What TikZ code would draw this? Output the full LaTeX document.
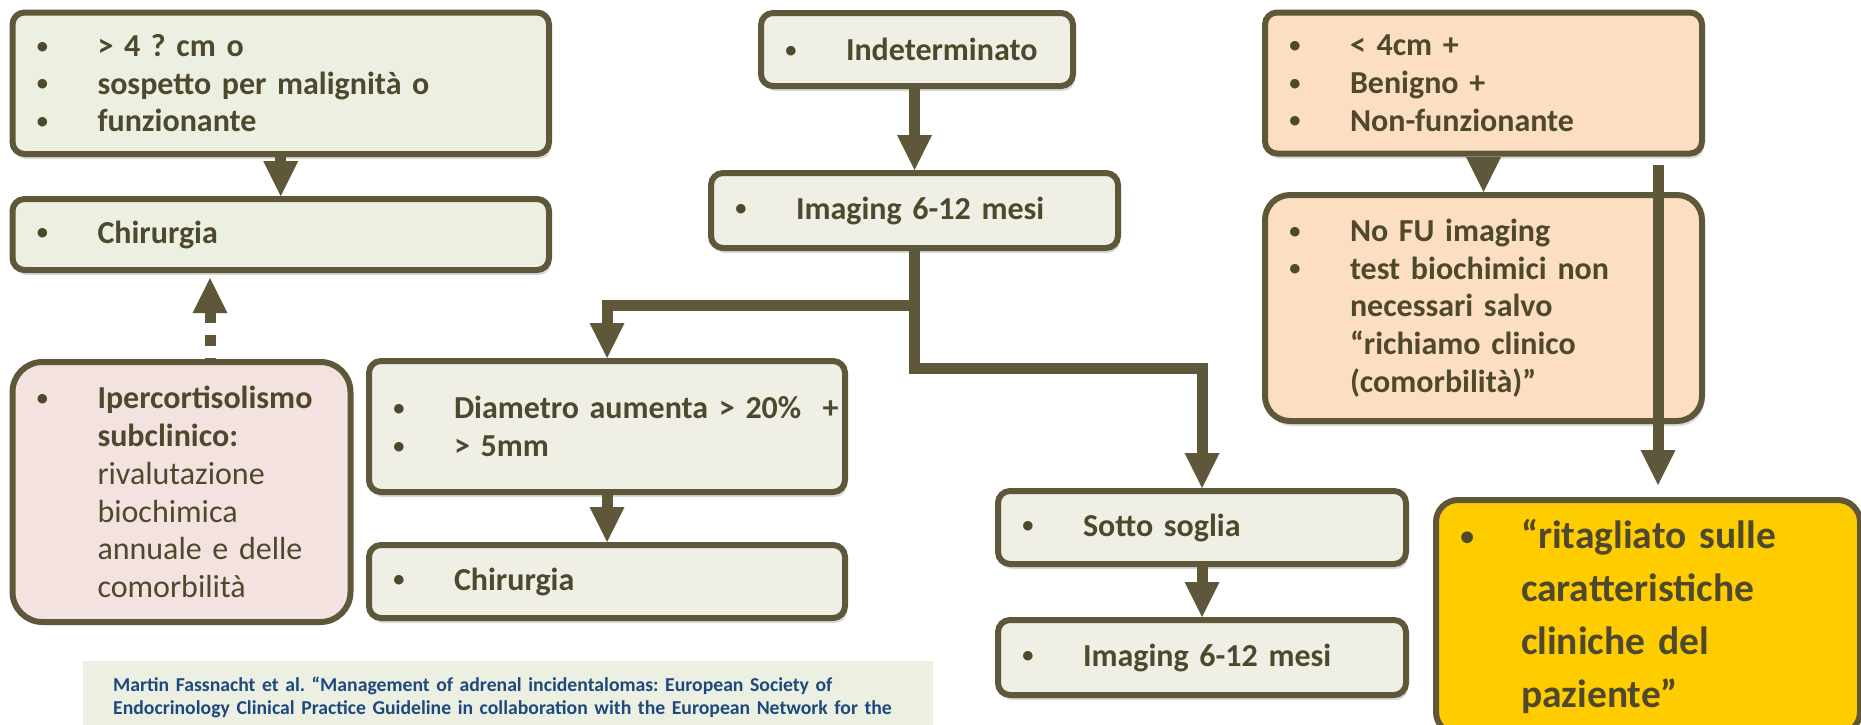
\documentclass[tikz,border=0pt]{standalone}
\usepackage{fontspec}
\usepackage{graphicx}
\setmainfont{Carlito}
\usetikzlibrary{arrows.meta,shadows}

\definecolor{rim}{RGB}{94,87,58}
\definecolor{ink}{RGB}{78,72,44}
\definecolor{sage}{RGB}{235,240,227}
\definecolor{stone}{RGB}{239,239,230}
\definecolor{blush}{RGB}{243,226,224}
\definecolor{peach}{RGB}{252,222,194}
\definecolor{amber}{RGB}{255,204,0}
\definecolor{citebg}{RGB}{235,240,227}
\definecolor{citeink}{RGB}{31,73,125}

\newcommand{\bdot}{\hspace{0.075em}\raisebox{0.1em}{\scalebox{0.7}{•}}}
\newcommand{\bitem}[2][63pt]{\mbox{\makebox[#1][l]{\bdot}#2}}
\newcommand{\bnext}[2][63pt]{\mbox{\hspace*{#1}#2}}
\frenchspacing

\begin{document}
\begin{tikzpicture}[x=1pt, y=-1pt,
    box/.style={rectangle, rounded corners=12pt, draw=rim, line width=6pt, anchor=north west,
        inner xsep=22pt, inner ysep=0pt, align=left, text=ink,
        font=\fontsize{32}{37.8}\selectfont\bfseries},
    shade/.style={drop shadow={shadow xshift=2pt, shadow yshift=-5pt, opacity=.15, fill=black}},
    flow/.style={draw=rim, line width=11pt, -{Triangle[length=35pt, width=35pt, line width=0pt]}}]
        \useasboundingbox (0,0) rectangle (1861,724);

        \node[box, shade, fill=sage, minimum width=536.5pt, minimum height=141.5pt, text width=492.5pt] (large) at (9.5,9.5)
            {\bitem{> 4 ? cm o}\\ \bitem{sospetto per malignità o}\\ \bitem{funzionante}};
        \node[box, shade, fill=sage, minimum width=536.5pt, minimum height=71pt, text width=492.5pt] (surgL) at (9.5,196)
            {\bitem{Chirurgia}};
        \node[box, fill=blush, rounded corners=30pt, minimum width=338pt, minimum height=260pt, text width=294pt] (hyper) at (9.5,359)
            {\bitem{Ipercortisolismo}\\ \bnext{subclinico:}\\ \bnext{\mdseries rivalutazione}\\ \bnext{\mdseries biochimica}\\ \bnext{\mdseries annuale e delle}\\ \bnext{\mdseries comorbilità}};

        \node[box, shade, fill=stone, minimum width=312pt, minimum height=73pt, text width=268pt] (indet) at (758,10)
            {\bitem{Indeterminato}};
        \node[box, shade, fill=stone, minimum width=407pt, minimum height=75pt, text width=363pt] (imgA) at (708,170)
            {\bitem{Imaging 6-12 mesi}};
        \node[box, shade, fill=stone, minimum width=476pt, minimum height=131pt, text width=432pt] (growth) at (366,358)
            {\bitem{Diametro aumenta > 20\%\ \ +}\\ \bitem{> 5mm}};
        \node[box, shade, fill=stone, minimum width=476pt, minimum height=73pt, text width=432pt] (surgM) at (366,542)
            {\bitem{Chirurgia}};
        \node[box, shade, fill=stone, minimum width=408pt, minimum height=73pt, text width=364pt] (below) at (995,488)
            {\bitem{Sotto soglia}};
        \node[box, shade, fill=stone, minimum width=408pt, minimum height=75pt, text width=364pt] (imgB) at (995,617)
            {\bitem{Imaging 6-12 mesi}};

        \node[box, shade, fill=peach, minimum width=437pt, minimum height=141pt, text width=393pt] (small) at (1262,9.5)
            {\bitem{< 4cm +}\\ \bitem{Benigno +}\\ \bitem{Non-funzionante}};
        \node[box, shade, fill=peach, rounded corners=25pt, minimum width=437pt, minimum height=226pt, text width=393pt] (nofu) at (1262,192)
            {\bitem{No FU imaging}\\ \bitem{test biochimici non}\\ \bnext{necessari salvo}\\ \bnext{“richiamo clinico}\\ \bnext{(comorbilità)”}};
        \node[box, fill=amber, rounded corners=22pt, inner xsep=21.5pt, minimum width=424pt, minimum height=234pt, text width=381pt,
            font=\fontsize{39.5}{53}\selectfont\bfseries] (tailored) at (1433,497)
            {\bitem[63.5pt]{“ritagliato sulle}\\ \bnext[63.5pt]{caratteristiche}\\ \bnext[63.5pt]{cliniche del}\\ \bnext[63.5pt]{paziente”}};

        \node[anchor=north west, fill=citebg, minimum width=850pt, minimum height=72pt, inner xsep=30pt, inner ysep=0pt,
            text width=790pt, align=left, text=citeink, font=\fontsize{19.7}{23}\selectfont\bfseries] (cite) at (83,661)
            {\mbox{Martin Fassnacht et al. “Management of adrenal incidentalomas: European Society of}\\
             \mbox{Endocrinology Clinical Practice Guideline in collaboration with the European Network for the}};

        \draw[flow] (large) -- (surgL);
        \draw[flow, dash pattern=on 11pt off 12pt, dash phase=10pt, shorten >=5pt]
            ([xshift=28.5pt]hyper.north) -- ([xshift=28.5pt]hyper.north |- surgL.south);
        \draw[flow] (indet.south -| imgA.north) -- (imgA.north);
        \draw[flow] (imgA.south) -- ++(0,54) -| (growth.north);
        \draw[flow] (imgA.south) -- ++(0,117) -| (below.north);
        \draw[flow] (growth) -- (surgM);
        \draw[flow] (below) -- (imgB);
        \draw[flow] (small) -- (nofu);
        \coordinate (drop) at (1658,165);
        \draw[flow, shorten >=12pt] (drop) -- (drop |- tailored.north);

    \end{tikzpicture}
\end{document}
